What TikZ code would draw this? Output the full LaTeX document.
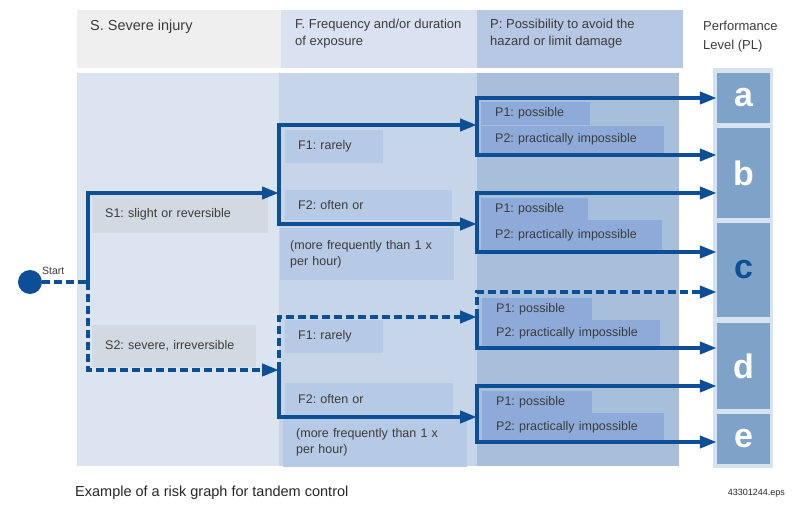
\documentclass[tikz,border=0pt]{standalone}
\usepackage{fontspec}
\setmainfont{Liberation Sans}
\usetikzlibrary{arrows.meta}
\frenchspacing
\definecolor{lineblue}{HTML}{0D4F96}
\definecolor{txtgray}{HTML}{3C3C3C}
\definecolor{hdrS}{HTML}{EFEFEF}
\definecolor{hdrF}{HTML}{DAE2F2}
\definecolor{hdrP}{HTML}{B7C8E4}
\definecolor{bodyS}{HTML}{DBE4EF}
\definecolor{bodyF}{HTML}{C7D5E8}
\definecolor{bodyP}{HTML}{A8BFDB}
\definecolor{slbl}{HTML}{D3D9E2}
\definecolor{flbl}{HTML}{B6C9E5}
\definecolor{plbl}{HTML}{8EAAD9}
\definecolor{plfill}{HTML}{7FA2C9}
\definecolor{plrim}{HTML}{D8E2EE}
\begin{document}
\begin{tikzpicture}[x=1pt, y=-1pt, >={Triangle[length=17pt,width=12pt]},
  every node/.style={align=left, inner sep=0pt, text=txtgray, font=\fontsize{12.5}{16}\selectfont},
  lbl/.style={anchor=north west, inner xsep=13pt, inner ysep=0pt},
  plbox/.style={fill=plfill, minimum width=53pt, text=white, font=\fontsize{34}{34}\selectfont\bfseries},
  flow/.style={draw=lineblue, line width=4pt},
  dflow/.style={flow, dash pattern=on 8pt off 4pt}]
\useasboundingbox (0,0) rectangle (795,505);
\fill[hdrS] (77,10) rectangle (281,68);
\fill[hdrF] (281,10) rectangle (477,68);
\fill[hdrP] (477,10) rectangle (683,68);
\fill[bodyS] (77,73) rectangle (279,466);
\fill[bodyF] (279,73) rectangle (477,466);
\fill[bodyP] (477,73) rectangle (679,466);
\fill[plrim] (713,68) rectangle (773,468);
\node[anchor=west, font=\fontsize{14.5}{17}\selectfont] (hs) at (90,27) {S. Severe injury};
\node[anchor=west, font=\fontsize{13}{17}\selectfont] (hf) at (295,33.5) {F. Frequency and/or duration\\of exposure};
\node[anchor=west, font=\fontsize{13}{17}\selectfont] (hp) at (490,34) {P: Possibility to avoid the\\hazard or limit damage};
\node[anchor=west, font=\fontsize{13}{19}\selectfont] (hpl) at (703,36.5) {Performance\\Level (PL)};
\node[lbl, fill=slbl, text width=150pt, minimum height=38pt] (s1) at (92,195) {S1: slight or reversible};
\node[lbl, fill=slbl, text width=138pt, minimum height=42pt] (s2) at (92,325) {S2: severe, irreversible};
\node[lbl, fill=flbl, text width=72pt, minimum height=33pt] (f1u) at (285,130) {F1: rarely};
\node[lbl, fill=flbl, text width=141pt, minimum height=30pt] (f2u) at (285,190) {F2: often or};
\node[lbl, fill=flbl, text width=154pt, minimum height=52pt, inner xsep=10pt] (f2un) at (280,228) {(more frequently than 1 x\\per hour)};
\node[lbl, fill=flbl, text width=72pt, minimum height=33pt] (f1l) at (285,320) {F1: rarely};
\node[lbl, fill=flbl, text width=142pt, minimum height=32pt] (f2l) at (285,383) {F2: often or};
\node[lbl, fill=flbl, text width=158pt, minimum height=49pt] (f2ln) at (283,418) {(more frequently than 1 x\\per hour)};
\node[lbl, fill=plbl, text width=81pt, minimum height=23pt, inner xsep=14pt] (p1a) at (481,102) {P1: possible};
\node[lbl, fill=plbl, text width=155pt, minimum height=27pt, inner xsep=14pt] (p2a) at (481,126) {P2: practically impossible};
\node[lbl, fill=plbl, text width=79pt, minimum height=22pt, inner xsep=14pt] (p1b) at (481,198) {P1: possible};
\node[lbl, fill=plbl, text width=153pt, minimum height=30pt, inner xsep=14pt] (p2b) at (481,220) {P2: practically impossible};
\node[lbl, fill=plbl, text width=82pt, minimum height=22pt, inner xsep=14pt] (p1c) at (482,298) {P1: possible};
\node[lbl, fill=plbl, text width=150pt, minimum height=26pt, inner xsep=14pt] (p2c) at (482,320) {P2: practically impossible};
\node[lbl, fill=plbl, text width=82pt, minimum height=22pt, inner xsep=14pt] (p1d) at (482,391) {P1: possible};
\node[lbl, fill=plbl, text width=154pt, minimum height=28pt, inner xsep=14pt] (p2d) at (482,413) {P2: practically impossible};
\node[plbox, minimum height=50pt] (a) at (743.5,98) {a};
\node[plbox, minimum height=90pt] (b) at (743.5,173) {b};
\node[plbox, minimum height=94pt, text=lineblue] (c) at (743.5,270) {c};
\node[plbox, minimum height=86pt] (d) at (743.5,366) {d};
\node[plbox, minimum height=50pt] (e) at (743.5,439) {e};
\node[circle, fill=lineblue, minimum size=24pt] (start) at (30,282) {};
\node[anchor=west, font=\fontsize{10.5}{12}\selectfont] (startlbl) at (42,271) {Start};
\coordinate (s0) at (88,282);
\coordinate (s1t) at (88,193);
\coordinate (s2t) at (88,370);
\coordinate (fu) at (279,193);
\coordinate (fu1) at (279,125);
\coordinate (fu2) at (279,224);
\coordinate (fl) at (279,370);
\coordinate (fl1) at (279,317);
\coordinate (fl2) at (279,417);
\coordinate (pa) at (477,125);
\coordinate (pa1) at (477,98);
\coordinate (pa2) at (477,155);
\coordinate (pb) at (477,224);
\coordinate (pb1) at (477,193);
\coordinate (pb2) at (477,252);
\coordinate (pc) at (477,317);
\coordinate (pc1) at (477,292);
\coordinate (pc2) at (477,348);
\coordinate (pd) at (477,417);
\coordinate (pd1) at (477,386);
\coordinate (pd2) at (477,442);
\draw[dflow] (start) -- (s0);
\draw[flow, ->] (s0) -- (s1t) -- (fu);
\draw[dflow, ->] (s0) -- (s2t) -- (fl);
\draw[flow, ->] (fu) -- (fu1) -- (pa);
\draw[flow, ->] (fu) -- (fu2) -- (pb);
\draw[dflow, ->] (fl) -- (fl1) -- (pc);
\draw[flow, ->] (fl) -- (fl2) -- (pd);
\draw[flow, ->] (pa) -- (pa1) -- (pa1 -| a.west);
\draw[flow, ->] (pa) -- (pa2) -- (pa2 -| b.west);
\draw[flow, ->] (pb) -- (pb1) -- (pb1 -| b.west);
\draw[flow, ->] (pb) -- (pb2) -- (pb2 -| c.west);
\draw[dflow, ->] (pc) -- (pc1) -- (pc1 -| c.west);
\draw[flow, ->] (pc) -- (pc2) -- (pc2 -| d.west);
\draw[flow, ->] (pd) -- (pd1) -- (pd1 -| d.west);
\draw[flow, ->] (pd) -- (pd2) -- (pd2 -| e.west);
\node[anchor=west, text=black!85, font=\fontsize{14.5}{17}\selectfont] (caption) at (75,493) {Example of a risk graph for tandem control};
\node[anchor=east, text=black!85, font=\fontsize{9}{11}\selectfont] (fileno) at (785,493) {43301244.eps};
\end{tikzpicture}
\end{document}
